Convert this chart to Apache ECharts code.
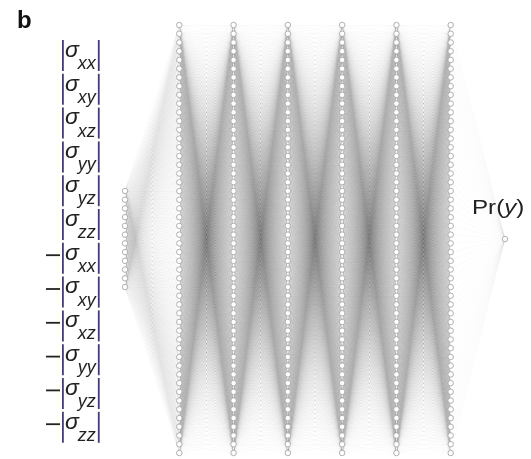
<!DOCTYPE html>
<html><head><meta charset="utf-8">
<script src="https://cdn.jsdelivr.net/npm/echarts@6/dist/echarts.min.js"></script>
<style>html,body{margin:0;padding:0;background:#fff}#chart{width:531px;height:459px}</style>
</head><body><div id="chart"></div>
<script>
// network layout: number of units in each layer (input, six hidden, output)
const layerSizes = [12, 50, 50, 50, 50, 50, 50, 1];
// stress tensor components fed to the input layer, positive then negated
const components = ['xx', 'xy', 'xz', 'yy', 'yz', 'zz'];
const signs = ['', '−'];
const outputParts = ['Pr(', 'y', ')'];
const panelTag = 'b';

// node positions: x = layer index, y = rank centred on zero
const nodes = layerSizes.map((n, l) =>
  Array.from({ length: n }, (_, k) => [l, k - (n - 1) / 2]));
const edges = [];
for (let l = 0; l < nodes.length - 1; l++)
  for (const a of nodes[l]) for (const b of nodes[l + 1]) edges.push({ coords: [a, b] });
const nodeData = [].concat(...nodes);

const chart = echarts.init(document.getElementById('chart'), null, { renderer: 'canvas' });

// text measuring for placing the closing bars
const mctx = document.createElement('canvas').getContext('2d');
function textW(str, font) { mctx.font = font; return mctx.measureText(str).width; }

const FAM = '"Liberation Sans", Arial, sans-serif';
const sigFont = 'italic 23px ' + FAM;
const subFont = 'italic 18px ' + FAM;
const barColor = '#45397a';
const inkColor = '#222';

const graphics = [];
graphics.push({ type: 'text', left: 17, top: 9,
  style: { text: panelTag, font: 'bold 24px ' + FAM, fill: '#111' } });

const labels = [];
signs.forEach(s => components.forEach(c => labels.push({ sign: s, sub: c })));
labels.forEach((lab, i) => {
  const cy = 55 + i * 33.8;
  const top = cy - 15;
  const x0 = 62;
  if (lab.sign) {
    graphics.push({ type: 'rect', shape: { x: 46, y: cy - 3.5, width: 14, height: 1.8 },
      style: { fill: inkColor } });
  }
  graphics.push({ type: 'rect', shape: { x: x0, y: top, width: 1.8, height: 31 },
    style: { fill: barColor } });
  graphics.push({ type: 'text', x: x0 + 3, y: top + 18 - 0.33 * 23,
    style: { text: 'σ', font: sigFont, fill: inkColor, verticalAlign: 'middle', align: 'left' } });
  const sx = x0 + 3 + textW('σ', sigFont) - 1;
  graphics.push({ type: 'text', x: sx, y: top + 30 - 0.33 * 18,
    style: { text: lab.sub, font: subFont, fill: inkColor, verticalAlign: 'middle', align: 'left' } });
  const ex = sx + textW(lab.sub, subFont) + 2;
  graphics.push({ type: 'rect', shape: { x: ex, y: top, width: 1.8, height: 31 },
    style: { fill: barColor } });
});

graphics.push({ type: 'text', x: 472, y: 208, scaleX: 1.15,
  style: {
    text: '{n|' + outputParts[0] + '}{i|' + outputParts[1] + '}{n|' + outputParts[2] + '}',
    verticalAlign: 'middle', align: 'left',
    rich: {
      n: { font: '21px ' + FAM, fill: '#222' },
      i: { font: 'italic 21px ' + FAM, fill: '#222' }
    }
  } });

chart.setOption({
  animation: false,
  backgroundColor: '#fff',
  grid: { left: 125, right: 26, top: 25, bottom: 6 },
  xAxis: { type: 'value', min: 0, max: layerSizes.length - 1, show: false },
  yAxis: { type: 'value', min: -24.5, max: 24.5, inverse: true, show: false },
  series: [
    {
      type: 'lines', coordinateSystem: 'cartesian2d', silent: true,
      large: false, progressive: 0,
      lineStyle: { color: '#000', opacity: 0.025, width: 0.9 },
      data: edges, z: 1
    },
    {
      type: 'scatter', silent: true, symbol: 'circle', symbolSize: 5.5,
      itemStyle: { color: '#fff', borderColor: '#a8a8a8', borderWidth: 0.9, opacity: 1 },
      data: nodeData, z: 2
    }
  ],
  graphic: graphics
});
</script></body></html>
